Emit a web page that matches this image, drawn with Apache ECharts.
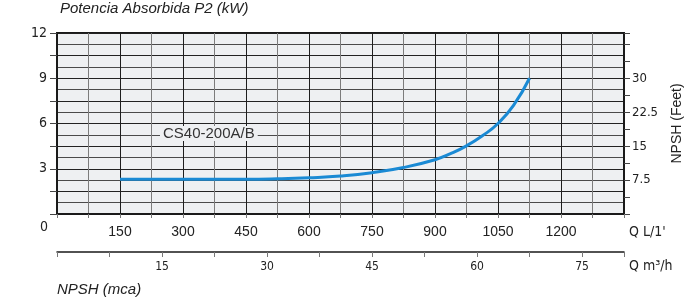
<!DOCTYPE html>
<html>
<head>
<meta charset="utf-8">
<script src="https://cdn.jsdelivr.net/npm/echarts@6/dist/echarts.min.js"></script>
<style>
  html, body { margin: 0; padding: 0; background: #fff; }
  #main { width: 685px; height: 305px; }
</style>
</head>
<body>
<div id="main"></div>
<script>
// curve: flow in L/min, value on left scale
var flowLpm = [150, 225, 300, 375, 450, 525, 600, 675, 750, 825, 900, 937, 975, 1012, 1050, 1087, 1125];
var npshVals = [2.3, 2.3, 2.3, 2.3, 2.3, 2.33, 2.4, 2.52, 2.74, 3.08, 3.6, 4.0, 4.52, 5.17, 6.0, 7.2, 9.0];

// tick labels
var lpmLabels = [150, 300, 450, 600, 750, 900, 1050, 1200];
var m3hLabels = [15, 30, 45, 60, 75];
var leftLabels = [3, 6, 9, 12];
var feetLabels = [7.5, 15, 22.5, 30];

var condensed = "'DejaVu Sans Condensed', 'DejaVu Sans', sans-serif";
var arial = "'Liberation Sans', Arial, sans-serif";

function only(list) {
    return function (v) {
        for (var i = 0; i < list.length; i++) {
            if (Math.abs(list[i] - v) < 1e-6) return String(list[i]);
        }
        return '';
    };
}

var chartDom = document.getElementById('main');
var myChart = echarts.init(chartDom, null, { renderer: 'canvas' });

var curve = flowLpm.map(function (q, i) { return [q, npshVals[i]]; });

var option = {
    animation: false,
    grid: {
        left: 57, right: 61, top: 33, bottom: 91,
        containLabel: false,
        outerBoundsMode: 'none',
        show: true,
        backgroundColor: '#eef0f2',
        borderColor: '#1a1a1a',
        borderWidth: 2
    },
    xAxis: [{
        type: 'value',
        min: 0, max: 1350, interval: 75,
        position: 'bottom',
        axisLine: { onZero: false, lineStyle: { color: '#1a1a1a', width: 2 } },
        axisTick: { show: true, length: 4, lineStyle: { color: '#777' } },
        axisLabel: {
            formatter: only(lpmLabels), margin: 11,
            fontFamily: arial, fontSize: 14, color: '#222'
        },
        splitLine: { show: true, lineStyle: { color: ['#1e1e1e', '#7c7c7c'], width: 1 } }
    }, {
        type: 'value',
        min: 0, max: 81, interval: 7.5,
        position: 'bottom',
        offset: 38,
        axisLine: { show: true, onZero: false, lineStyle: { color: '#1a1a1a', width: 1.5 } },
        axisTick: { show: true, length: 5, lineStyle: { color: '#777' } },
        axisLabel: {
            formatter: only(m3hLabels), margin: 9,
            fontFamily: condensed, fontSize: 12, color: '#222'
        },
        splitLine: { show: false }
    }],
    yAxis: [{
        type: 'value',
        min: 0, max: 12, interval: 1.5,
        position: 'left',
        axisLine: { show: true, onZero: false, lineStyle: { color: '#1a1a1a', width: 2 } },
        axisTick: { show: true, length: 7, lineStyle: { color: '#444' } },
        axisLabel: {
            formatter: only(leftLabels), margin: 10,
            fontFamily: condensed, fontSize: 14, color: '#222'
        },
        splitLine: { show: false }
    }, {
        type: 'value',
        min: 0, max: 40, interval: 3.75,
        position: 'right',
        name: 'NPSH (Feet)',
        nameLocation: 'middle',
        nameRotate: 90,
        nameGap: 46,
        nameTextStyle: { fontFamily: arial, fontSize: 14, color: '#222' },
        axisLine: { show: true, onZero: false, lineStyle: { color: '#1a1a1a', width: 2 } },
        axisTick: { show: true, length: 6, lineStyle: { color: '#444' } },
        axisLabel: {
            formatter: only(feetLabels), margin: 8,
            fontFamily: condensed, fontSize: 13, color: '#222'
        },
        splitLine: { show: false }
    }, {
        // fine horizontal grid only
        type: 'value',
        min: 0, max: 12, interval: 0.75,
        position: 'left',
        axisLine: { show: false, onZero: false },
        axisTick: { show: false },
        axisLabel: { show: false },
        splitLine: { show: true, lineStyle: { color: ['#222', '#4a4a4a'], width: 1 } }
    }],
    graphic: [
        { type: 'text', left: 60, top: 1, style: { text: 'Potencia Absorbida P2 (kW)', font: 'italic 15px ' + arial, fill: '#222' } },
        { type: 'text', left: 57, top: 282, style: { text: 'NPSH (mca)', font: 'italic 15px ' + arial, fill: '#222' } },
        { type: 'text', left: 40, top: 220, style: { text: '0', font: '14px ' + condensed, fill: '#222' } },
        { type: 'text', left: 629, top: 225, style: { text: "Q L/1'", font: '14px ' + condensed, fill: '#222' } },
        { type: 'text', left: 629, top: 259, style: { text: 'Q m\u00b3/h', font: '14px ' + condensed, fill: '#222' } },
        {
            type: 'text', left: 160, top: 126, z: 10,
            style: {
                text: 'CS40-200A/B', font: '15px ' + arial, fill: '#333',
                backgroundColor: '#eef0f2', padding: [0, 3]
            }
        }
    ],
    series: [{
        type: 'line',
        xAxisIndex: 0,
        yAxisIndex: 0,
        data: curve,
        smooth: 0.5,
        showSymbol: false,
        lineStyle: { color: '#1a8ad4', width: 3 },
        z: 5
    }]
};

option && myChart.setOption(option);
</script>
</body>
</html>
